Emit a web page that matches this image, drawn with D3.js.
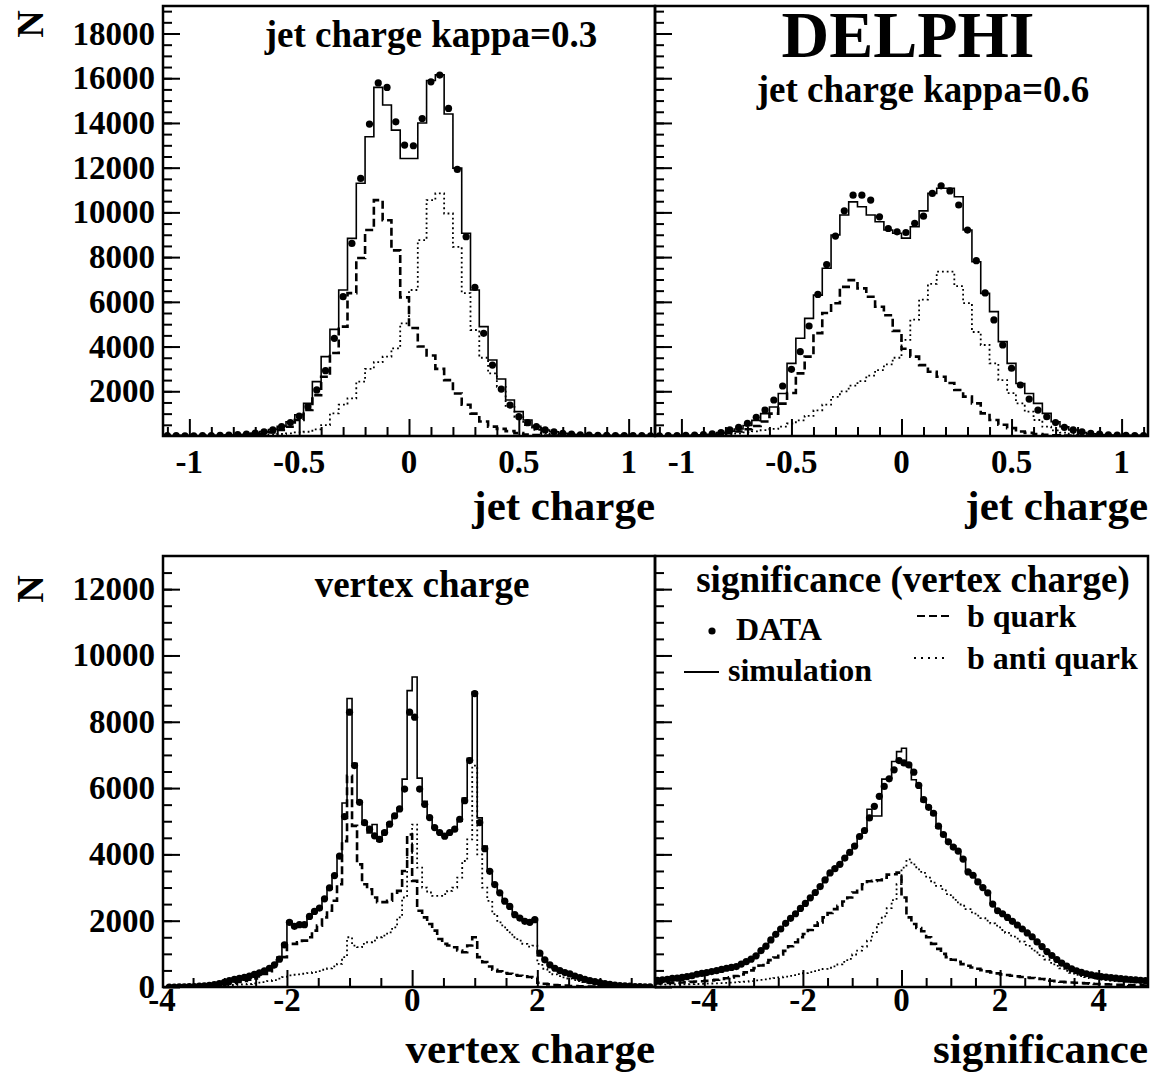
<!DOCTYPE html>
<html><head><meta charset="utf-8">
<script src="https://cdn.jsdelivr.net/npm/d3@7"></script>
<style>
body{margin:0;background:#fff}
svg{display:block}
text{font-family:"Liberation Serif","Times New Roman",serif;font-weight:bold;fill:#000}
</style>
</head><body>
<svg id="c" width="1155" height="1080"></svg>
<script>
// ---------- jet charge (bins of 0.04 from -1.12 to 1.12) ----------
const jetBinStart = -1.12, jetBinWidth = 0.04;
const k03Data = [20,15,10,10,15,20,25,40,60,90,130,190,270,415,600,890,1310,2060,2920,4370,6230,8610,11520,13950,15790,15590,14050,13010,12980,14200,15840,16140,14650,11920,8910,6650,4590,3170,2100,1385,865,595,415,270,190,120,80,55,40,30,25,20,20,15,15,10];
const k03Sim  = [20,15,10,10,15,20,25,40,50,80,130,200,290,430,640,950,1460,2430,3550,4770,6530,8840,11300,13380,15590,14800,13680,12410,12410,14000,15900,16150,14400,11980,9070,6530,4890,3400,2550,1610,1090,715,430,270,190,120,80,55,40,30,25,20,20,15,15,10];
const k03B    = [5,5,5,5,5,10,10,15,20,30,60,100,160,270,415,715,1160,1830,2650,3710,4890,6390,7960,9210,10550,9650,8300,6200,4830,4000,3600,3000,2500,1900,1400,1000,650,420,320,220,130,70,40,25,15,10,10,5,5,5,5,5,5,5,5,5];
const k03Bbar = [5,5,5,5,5,5,5,10,10,15,25,40,60,90,120,160,190,300,490,1010,1400,1680,2430,3000,3300,3550,3920,5040,6530,8760,10550,10850,9950,8460,6390,4740,3500,2800,2200,1300,860,490,270,130,70,40,25,15,10,10,5,5,5,5,5,5];

const k06Data = [10,15,20,30,40,60,100,150,270,390,565,835,1160,1610,2235,2980,3770,4920,6330,7670,8940,10070,10770,10770,10550,9800,9280,9130,9100,9510,9830,10850,11190,10960,10330,9210,7840,6400,5190,4070,3030,2280,1650,1160,860,600,390,270,190,120,80,50,35,25,20,15];
const k06Sim  = [10,10,15,20,30,50,80,150,220,310,470,700,1000,1300,1900,3250,4370,5260,6300,7500,8990,9880,10470,10250,9880,9580,9210,9070,8850,9360,10070,10850,11080,11080,10700,9210,7790,6380,5560,4220,3250,2350,1900,1460,1010,640,415,270,150,100,60,40,30,20,15,10];
const k06B    = [5,5,10,10,15,20,30,60,120,200,300,450,650,1000,1450,1920,2800,3550,4600,5500,5940,6670,6970,6600,6230,5780,5400,4700,3900,3550,3170,2870,2650,2370,2060,1760,1460,1010,715,500,350,200,140,90,50,30,20,15,10,10,5,5,5,5,5,5];
const k06Bbar = [5,5,5,10,10,15,25,40,70,110,160,210,260,320,420,560,700,900,1150,1400,1750,2000,2250,2450,2700,2950,3200,3500,4300,5200,6100,6800,7350,7350,6700,5940,4650,4070,3250,2500,1920,1460,1090,715,415,250,150,100,60,40,25,15,10,10,5,5];

// ---------- vertex charge (bins of 0.08 from -3.92) ----------
const vtxBinStart = -3.92, vtxBinWidth = 0.08;
const vtxData = [0,0,5,5,10,15,25,35,50,70,100,
  140,190,230,260,290,330,380,430,490,565,670,
  840,1270,1950,1830,1880,1880,2130,2280,2380,2660,2990,
  3360,3950,5140,8290,6680,5570,4960,4760,4560,4450,4660,
  4910,5160,5370,5970,8290,8140,5970,5510,5110,4810,4660,
  4550,4660,4760,5060,5620,6830,8850,4960,4170,3490,3090,
  2840,2590,2430,2180,2080,1980,1950,2030,1020,820,670,
  565,495,435,395,330,280,230,190,160,130,100,
  80,60,45,35,25,15,10,5,5];
const vtxSim = [0,0,5,5,10,15,25,35,50,70,100,
  140,180,220,250,290,330,370,420,480,560,680,
  900,1300,1980,1900,1880,1900,2100,2250,2400,2650,2950,
  3350,3950,5550,8700,6750,5600,4900,4650,4900,4400,4700,
  4950,5150,5400,6270,8940,9350,6300,5600,5100,4800,4650,
  4600,4650,4750,5000,5700,6900,8900,5100,4250,3500,3100,
  2850,2600,2400,2200,2100,2000,1950,2050,1050,820,680,
  570,500,440,390,330,280,235,190,160,130,100,
  80,60,45,35,25,15,10,5,5];
const vtxB = [0,0,0,5,5,10,15,20,30,45,60,
  80,100,120,150,180,220,260,320,390,480,600,
  800,900,1300,1300,1350,1400,1500,1700,1850,2100,2300,
  2600,3100,4400,6370,4860,3700,3100,2950,2700,2560,2560,
  2600,2800,2900,3500,4600,3200,2300,2100,1900,1700,1450,
  1300,1250,1200,1100,1050,1250,1500,900,750,620,520,
  470,420,400,360,340,320,300,280,130,100,80,
  60,50,40,30,25,20,15,10,10,5,5,
  0,0,0,0,0,0,0,0,0];
const vtxBbar = [0,0,0,0,5,5,10,10,15,20,30,
  40,50,60,70,80,90,110,130,150,180,210,
  250,300,350,370,380,400,420,450,480,520,560,
  620,700,900,1500,1250,1200,1300,1350,1400,1500,1550,
  1650,1800,2100,2700,3900,4900,3600,3000,2850,2750,2750,
  2800,2900,3000,3300,3800,4450,6680,4000,3000,2600,2200,
  1950,1800,1650,1500,1400,1300,1220,1250,700,550,450,
  380,330,290,250,210,180,150,120,100,80,60,
  45,35,25,20,15,10,5,5,0];

// ---------- significance (bins of 0.1 from -5 to 5) ----------
const sigBinStart = -5, sigBinWidth = 0.1;
const sigData = [200,215,230,260,270,290,315,340,385,410,
  435,465,495,530,565,590,615,690,765,840,
  940,1100,1230,1420,1590,1750,1920,2070,2210,2370,
  2520,2690,2850,3030,3230,3440,3570,3700,3890,4060,
  4250,4540,4720,5100,5450,5750,6050,6280,6550,6830,
  6760,6700,6480,6080,5650,5420,5240,4850,4600,4380,
  4220,4100,3860,3470,3370,3170,3000,2840,2500,2300,
  2210,2100,1980,1870,1750,1630,1515,1360,1220,1070,
  950,830,720,630,550,490,440,400,365,335,
  315,295,280,265,250,235,225,212,200,190];
const sigSim = [195,210,235,250,275,295,320,350,375,405,
  440,470,500,525,560,600,640,700,770,850,
  960,1080,1250,1400,1600,1760,1900,2080,2200,2350,
  2530,2700,2830,3050,3250,3420,3600,3720,3900,4050,
  4280,4520,4700,5360,5160,5160,6270,6300,6800,7100,
  7200,6650,6250,6050,5600,5450,5200,4800,4620,4400,
  4250,4080,3850,3500,3380,3150,3020,2850,2520,2320,
  2220,2100,1990,1860,1760,1640,1500,1370,1230,1080,
  960,840,730,640,560,500,450,405,370,340,
  320,300,282,268,252,238,226,214,202,192];
const sigB = [110,115,120,125,130,138,146,155,165,175,
  185,200,220,240,265,290,330,380,440,500,
  570,650,730,810,890,980,1090,1230,1350,1500,
  1600,1720,1850,1950,2100,2230,2350,2450,2580,2700,
  2850,2950,3100,3190,3200,3220,3300,3390,3400,3450,
  2700,2100,1900,1780,1680,1500,1300,1150,1000,900,
  820,760,690,640,590,550,510,470,440,410,
  380,360,340,320,300,285,270,255,240,225,
  190,175,160,148,138,128,118,108,100,92,
  86,80,75,70,66,62,58,54,50,47];
const sigBbar = [70,72,74,76,78,80,83,86,90,95,
  100,105,110,116,122,130,140,150,162,176,
  200,215,230,250,270,290,310,335,360,390,
  420,450,480,510,545,580,620,680,760,850,
  980,1100,1220,1400,1630,1900,2130,2380,2620,3100,
  3600,3850,3700,3550,3440,3300,3150,3050,2950,2800,
  2700,2550,2450,2350,2250,2150,2080,2000,1920,1850,
  1720,1630,1550,1460,1370,1270,1160,1040,930,830,
  730,640,560,490,430,370,330,295,265,243,
  222,206,192,180,170,161,153,146,140,135];

// ---------- tick values ----------
const jetXMajor = [-1, -0.5, 0, 0.5, 1];
const jetXMinor = [-1.1,-0.9,-0.8,-0.7,-0.6,-0.4,-0.3,-0.2,-0.1,0.1,0.2,0.3,0.4,0.6,0.7,0.8,0.9,1.1];
const jetYMajor = [2000,4000,6000,8000,10000,12000,14000,16000,18000];
const vtxXMajor = [-4, -2, 0, 2];
const vtxXMinor = [-3.5,-3,-2.5,-1.5,-1,-0.5,0.5,1,1.5,2.5,3,3.5];
const sigXMajor = [-4, -2, 0, 2, 4];
const sigXMinor = [-4.5,-3.5,-3,-2.5,-1.5,-1,-0.5,0.5,1,1.5,2.5,3,3.5,4.5];
const botYMajor = [0,2000,4000,6000,8000,10000,12000];

const svg = d3.select('#c');

function drawPanel(cfg) {
  const x = d3.scaleLinear().domain(cfg.xDomain).range([cfg.left, cfg.right]);
  const y = d3.scaleLinear().domain(cfg.yDomain).range([cfg.bottom, cfg.top]);
  const id = 'clip' + cfg.name;
  svg.append('clipPath').attr('id', id).append('rect')
    .attr('x', cfg.left).attr('y', cfg.top)
    .attr('width', cfg.right - cfg.left).attr('height', cfg.bottom - cfg.top);
  const g = svg.append('g').attr('clip-path', `url(#${id})`);
  const step = vals => vals.flatMap((v, i) => {
    const a = cfg.binStart + i * cfg.binWidth;
    return [[a, v], [a + cfg.binWidth, v]];
  });
  const line = d3.line().x(d => x(d[0])).y(d => y(d[1]));
  g.append('path').attr('d', line(step(cfg.bbar))).attr('fill', 'none')
    .attr('stroke', '#000').attr('stroke-width', 1.8).attr('stroke-dasharray', '1.8,3');
  g.append('path').attr('d', line(step(cfg.b))).attr('fill', 'none')
    .attr('stroke', '#000').attr('stroke-width', 2.6).attr('stroke-dasharray', '8,4');
  g.append('path').attr('d', line(step(cfg.sim))).attr('fill', 'none')
    .attr('stroke', '#000').attr('stroke-width', 1.6);
  g.selectAll('circle.pt').data(cfg.data).join('circle').attr('class', 'pt')
    .attr('cx', (d, i) => x(cfg.binStart + (i + 0.5) * cfg.binWidth))
    .attr('cy', d => y(d)).attr('r', 3.6).attr('fill', '#000');

  // y ticks (inside, on the left edge)
  const yMinorVals = d3.range(cfg.yMinorStep, cfg.yDomain[1], cfg.yMinorStep);
  const ya1 = svg.append('g').attr('transform', `translate(${cfg.left},0)`)
    .call(d3.axisLeft(y).tickValues(yMinorVals).tickSize(-9).tickFormat(''));
  const ya2 = svg.append('g').attr('transform', `translate(${cfg.left},0)`)
    .call(d3.axisLeft(y).tickValues(cfg.yMajor).tickSize(-17).tickFormat(''));
  // x ticks (inside, on the bottom edge)
  const inDom = v => v >= cfg.xDomain[0] - 1e-9 && v <= cfg.xDomain[1] + 1e-9;
  const xa1 = svg.append('g').attr('transform', `translate(0,${cfg.bottom})`)
    .call(d3.axisBottom(x).tickValues(cfg.xMinor.filter(inDom)).tickSize(-9).tickFormat(''));
  const xa2 = svg.append('g').attr('transform', `translate(0,${cfg.bottom})`)
    .call(d3.axisBottom(x).tickValues(cfg.xMajor.filter(inDom)).tickSize(-17).tickFormat(''));
  [ya1, ya2, xa1, xa2].forEach(a => {
    a.select('.domain').remove();
    a.selectAll('line').attr('stroke', '#000').attr('stroke-width', 2);
  });

  // tick labels
  svg.append('g').selectAll('text').data(cfg.xMajor).join('text')
    .attr('x', d => Math.max(cfg.left - 1, x(d))).attr('y', cfg.xLabelY)
    .attr('text-anchor', 'middle').attr('font-size', 33).text(d => String(d));
  if (cfg.showYLabels) {
    svg.append('g').selectAll('text').data(cfg.yMajor).join('text')
      .attr('x', cfg.left - 8).attr('y', d => y(d) + 11)
      .attr('text-anchor', 'end').attr('font-size', 33).text(d => String(d));
  }
  // frame
  svg.append('rect').attr('x', cfg.left).attr('y', cfg.top)
    .attr('width', cfg.right - cfg.left).attr('height', cfg.bottom - cfg.top)
    .attr('fill', 'none').attr('stroke', '#000').attr('stroke-width', 2.5);
}

const topY = [0, 19230], botY = [0, 13000];
drawPanel({name:'tl', left:163, right:655, top:6, bottom:436, xDomain:[-1.12,1.12], yDomain:topY,
  binStart:jetBinStart, binWidth:jetBinWidth, data:k03Data, sim:k03Sim, b:k03B, bbar:k03Bbar,
  xMajor:jetXMajor, xMinor:jetXMinor, yMajor:jetYMajor, yMinorStep:500, xLabelY:473, showYLabels:true});
drawPanel({name:'tr', left:655, right:1148, top:6, bottom:436, xDomain:[-1.12,1.12], yDomain:topY,
  binStart:jetBinStart, binWidth:jetBinWidth, data:k06Data, sim:k06Sim, b:k06B, bbar:k06Bbar,
  xMajor:jetXMajor, xMinor:jetXMinor, yMajor:jetYMajor, yMinorStep:500, xLabelY:473, showYLabels:false});
drawPanel({name:'bl', left:163, right:655, top:556, bottom:987, xDomain:[-3.98,3.88], yDomain:botY,
  binStart:vtxBinStart, binWidth:vtxBinWidth, data:vtxData, sim:vtxSim, b:vtxB, bbar:vtxBbar,
  xMajor:vtxXMajor, xMinor:vtxXMinor, yMajor:botYMajor, yMinorStep:500, xLabelY:1011, showYLabels:true});
drawPanel({name:'br', left:655, right:1148, top:556, bottom:987, xDomain:[-5,5], yDomain:botY,
  binStart:sigBinStart, binWidth:sigBinWidth, data:sigData, sim:sigSim, b:sigB, bbar:sigBbar,
  xMajor:sigXMajor, xMinor:sigXMinor, yMajor:botYMajor, yMinorStep:500, xLabelY:1011, showYLabels:false});

// titles
const T = (x, y, s, size, anchor) => svg.append('text').attr('x', x).attr('y', y)
  .attr('font-size', size).attr('text-anchor', anchor || 'start').text(s);
T(431, 47, 'jet charge kappa=0.3', 37, 'middle');
T(908, 57, 'DELPHI', 66, 'middle');
T(923, 102, 'jet charge kappa=0.6', 37, 'middle');
T(422, 597, 'vertex charge', 37, 'middle');
T(913, 592, 'significance (vertex charge)', 37, 'middle');
// axis titles
T(655, 520, 'jet charge', 43, 'end');
T(1148, 520, 'jet charge', 43, 'end');
T(655, 1063, 'vertex charge', 43, 'end');
T(1148, 1063, 'significance', 43, 'end');
// y titles
svg.append('text').attr('transform', 'translate(43,24) rotate(-90)').attr('text-anchor', 'middle')
  .attr('font-size', 38).text('N');
svg.append('text').attr('transform', 'translate(43,589) rotate(-90)').attr('text-anchor', 'middle')
  .attr('font-size', 38).text('N');

// legend
svg.append('circle').attr('cx', 712).attr('cy', 631).attr('r', 3.6).attr('fill', '#000');
T(736, 640, 'DATA', 32);
svg.append('line').attr('x1', 684).attr('x2', 719).attr('y1', 672).attr('y2', 672)
  .attr('stroke', '#000').attr('stroke-width', 2);
T(728, 681, 'simulation', 32);
svg.append('line').attr('x1', 917).attr('x2', 949).attr('y1', 616).attr('y2', 616)
  .attr('stroke', '#000').attr('stroke-width', 2.2).attr('stroke-dasharray', '8,4');
T(967, 627, 'b quark', 32);
svg.append('line').attr('x1', 914).attr('x2', 949).attr('y1', 658).attr('y2', 658)
  .attr('stroke', '#000').attr('stroke-width', 2).attr('stroke-dasharray', '2,5');
T(967, 669, 'b anti quark', 32);
</script>
</body></html>
